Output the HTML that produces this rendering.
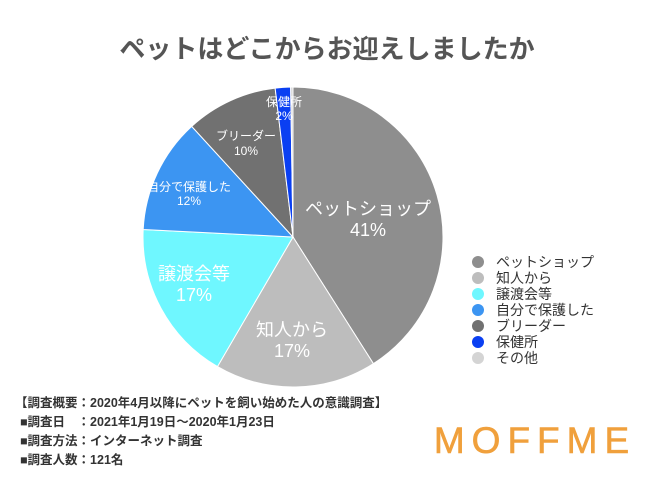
<!DOCTYPE html>
<html><head><meta charset="utf-8"><style>
html,body{margin:0;padding:0;background:#fff;width:650px;height:488px;overflow:hidden}
svg{display:block;font-family:"Liberation Sans","Noto Sans CJK JP",sans-serif}
</style></head><body>
<svg id="s" width="650" height="488" viewBox="0 0 650 488">
<text x="327" y="58" text-anchor="middle" font-size="26" font-weight="bold" fill="#555">ペットはどこからお迎えしましたか</text>
<g id="pie"></g>
<g font-size="18" fill="#fff" text-anchor="middle">
<text x="368" y="215">ペットショップ</text><text x="368" y="236">41%</text>
<text x="292" y="336">知人から</text><text x="292" y="357">17%</text>
<text x="194" y="280">譲渡会等</text><text x="194" y="301">17%</text>
</g>
<g font-size="12" fill="#fff" text-anchor="middle">
<text x="189" y="191">自分で保護した</text><text x="189" y="205">12%</text>
<text x="246" y="140">ブリーダー</text><text x="246" y="155">10%</text>
<text x="284" y="106">保健所</text><text x="284" y="120">2%</text>
</g>
<g font-size="14" fill="#333">
<circle cx="478" cy="262" r="6" fill="#8e8e8e"/><text x="496" y="267">ペットショップ</text>
<circle cx="478" cy="278" r="6" fill="#bdbdbd"/><text x="496" y="283">知人から</text>
<circle cx="478" cy="294" r="6" fill="#6ff7ff"/><text x="496" y="299">譲渡会等</text>
<circle cx="478" cy="310" r="6" fill="#3c95f2"/><text x="496" y="315">自分で保護した</text>
<circle cx="478" cy="326" r="6" fill="#717171"/><text x="496" y="331">ブリーダー</text>
<circle cx="478" cy="342" r="6" fill="#0a3ff2"/><text x="496" y="347">保健所</text>
<circle cx="478" cy="358" r="6" fill="#d4d4d4"/><text x="496" y="363">その他</text>
</g>
<g font-size="12.5" font-weight="bold" fill="#333">
<text x="15" y="407">【調査概要：2020年4月以降にペットを飼い始めた人の意識調査】</text>
<text x="20" y="426">■調査日　：2021年1月19日〜2020年1月23日</text>
<text x="20" y="445">■調査方法：インターネット調査</text>
<text x="20" y="464">■調査人数：121名</text>
</g>
<text x="535" y="453" text-anchor="middle" font-size="37" fill="#f0a03c" stroke="#f0a03c" stroke-width="0.6" letter-spacing="7">MOFFME</text>
</svg>
<script>
var f=[0.410,0.174,0.174,0.124,0.099,0.0165,0.0025];
var c=["#8e8e8e","#bdbdbd","#6ff7ff","#3c95f2","#717171","#0a3ff2","#d4d4d4"];
var cx=293,cy=237,r=150,a=0,g=document.getElementById("pie"),h="";
for(var i=0;i<f.length;i++){var a0=a*2*Math.PI,a1=(a+f[i])*2*Math.PI;
var x0=cx+r*Math.sin(a0),y0=cy-r*Math.cos(a0),x1=cx+r*Math.sin(a1),y1=cy-r*Math.cos(a1);
h+='<path d="M'+cx+','+cy+'L'+x0+','+y0+'A'+r+','+r+' 0 '+(f[i]>0.5?1:0)+' 1 '+x1+','+y1+'Z" fill="'+c[i]+'" stroke="#fff" stroke-width="1"/>';a+=f[i];}
g.innerHTML=h;
</script>
</body></html>
